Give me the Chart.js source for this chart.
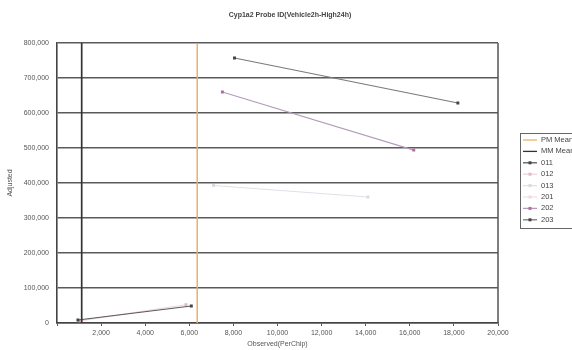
<!DOCTYPE html>
<html>
<head>
<meta charset="utf-8">
<script src="https://cdn.jsdelivr.net/npm/chart.js@4/dist/chart.umd.min.js"></script>
<style>
  html, body { margin: 0; padding: 0; background: #ffffff; }
  canvas { display: block; }
</style>
</head>
<body>
<canvas id="chart" width="572" height="350"></canvas>
<script>
// Probe intensities: observed per chip (x) against adjusted value (y)
const chartTitle = 'Cyp1a2 Probe ID(Vehicle2h-High24h)';
const xTitle = 'Observed(PerChip)';
const yTitle = 'Adjusted';

// Group means drawn as vertical reference lines
const meanNames = ['PM Mean', 'MM Mean'];
const meanValues = [6360, 1120];

// Sample series: two points each
const seriesNames = ['011', '012', '013', '201', '202', '203'];
const observed011 = [950, 6090];
const adjusted011 = [8600, 48600];
const observed012 = [1000, 5850];
const adjusted012 = [6000, 52000];
const observed013 = [7100, 14100];
const adjusted013 = [393000, 360000];
const observed201 = [];
const adjusted201 = [];
const observed202 = [7500, 16180];
const adjusted202 = [660000, 494000];
const observed203 = [8050, 18180];
const adjusted203 = [757000, 628500];

// Axis ranges and ticks
const xMin = 0, xMax = 20000, xStep = 2000;
const yMin = 0, yMax = 800000, yStep = 100000;

const fmt = v => v.toLocaleString('en-US');
const pts = (xs, ys) => xs.map((x, i) => ({ x: x, y: ys[i] }));
const vline = x => [{ x: x, y: yMin }, { x: x, y: yMax }];

const meanColors = ['#eab06a', '#333333'];
const seriesColors = ['#5a5a5a', '#eed3e3', '#e2dfe8', '#f4e0ee', '#b49cbb', '#7a7a7a'];
const pointColors = ['#444444', '#e3b6d0', '#dcd9e4', '#f0d8e8', '#b86aa0', '#444444'];
const seriesData = [
  pts(observed011, adjusted011),
  pts(observed012, adjusted012),
  pts(observed013, adjusted013),
  pts(observed201, adjusted201),
  pts(observed202, adjusted202),
  pts(observed203, adjusted203)
];

const datasets = [];
meanNames.forEach((name, i) => {
  datasets.push({
    label: name,
    data: vline(meanValues[i]),
    borderColor: meanColors[i],
    backgroundColor: meanColors[i],
    borderWidth: i === 0 ? 1.5 : 1.7,
    pointRadius: 0,
    showLine: true
  });
});
seriesNames.forEach((name, i) => {
  datasets.push({
    label: name,
    data: seriesData[i],
    borderColor: seriesColors[i],
    backgroundColor: pointColors[i],
    pointBorderColor: pointColors[i],
    borderWidth: 1.1,
    pointStyle: 'rect',
    pointRadius: 1.3,
    showLine: true
  });
});

const FONT = '"Liberation Sans", Arial, sans-serif';

// Title, right-hand frame edge and legend box
const decorations = {
  id: 'decorations',
  afterDraw(chart) {
    const ctx = chart.ctx;
    const a = chart.chartArea;
    ctx.save();
    // frame right edge
    ctx.strokeStyle = '#555555';
    ctx.lineWidth = 1.5;
    ctx.beginPath();
    ctx.moveTo(a.right, a.top);
    ctx.lineTo(a.right, a.bottom);
    ctx.stroke();

    // title
    ctx.fillStyle = '#444444';
    ctx.font = 'bold 7px ' + FONT;
    ctx.textAlign = 'center';
    ctx.textBaseline = 'middle';
    ctx.fillText(chartTitle, 290, 15);

    // legend
    const lx = 520, ly = 133, lw = 70, lh = 95, step = 11.4;
    ctx.fillStyle = '#ffffff';
    ctx.fillRect(lx, ly, lw, lh);
    ctx.strokeStyle = '#666666';
    ctx.lineWidth = 1;
    ctx.strokeRect(lx + 0.5, ly + 0.5, lw, lh);
    ctx.font = '7.5px ' + FONT;
    ctx.textAlign = 'left';
    chart.data.datasets.forEach((ds, i) => {
      const y = ly + 7 + i * step;
      ctx.strokeStyle = ds.borderColor;
      ctx.lineWidth = 1.3;
      ctx.beginPath();
      ctx.moveTo(lx + 3, y);
      ctx.lineTo(lx + 17, y);
      ctx.stroke();
      if (ds.pointRadius > 0) {
        ctx.fillStyle = ds.backgroundColor;
        ctx.fillRect(lx + 10 - 1.5, y - 1.5, 3, 3);
      }
      ctx.fillStyle = '#444444';
      ctx.fillText(ds.label, lx + 21, y);
    });
    ctx.restore();
  }
};

new Chart(document.getElementById('chart'), {
  type: 'scatter',
  data: { datasets: datasets },
  options: {
    responsive: false,
    animation: false,
    layout: { padding: { top: 43, right: 74, left: 0, bottom: 0 } },
    plugins: {
      legend: { display: false },
      title: { display: false },
      tooltip: { enabled: false }
    },
    scales: {
      x: {
        type: 'linear',
        min: xMin,
        max: xMax,
        afterFit(scale) { scale.height = 27; },
        ticks: {
          stepSize: xStep,
          callback: v => (v === 0 ? '' : fmt(v)),
          font: { family: FONT, size: 7 },
          color: '#555555',
          padding: 3,
          maxRotation: 0,
          autoSkip: false
        },
        grid: {
          drawOnChartArea: false,
          drawTicks: true,
          tickLength: 3,
          color: '#555555',
          lineWidth: 1
        },
        border: { display: true, color: '#444444', width: 1.6 },
        title: {
          display: true,
          text: xTitle,
          font: { family: FONT, size: 7 },
          color: '#555555',
          padding: { top: 0, bottom: 2 }
        }
      },
      y: {
        type: 'linear',
        min: yMin,
        max: yMax,
        afterFit(scale) { scale.width = 57; },
        ticks: {
          stepSize: yStep,
          callback: v => fmt(v),
          font: { family: FONT, size: 7 },
          color: '#555555',
          padding: 8
        },
        grid: {
          drawTicks: false,
          color: '#5a5a5a',
          lineWidth: 1.5
        },
        border: { display: true, color: '#444444', width: 1.6 },
        title: {
          display: true,
          text: yTitle,
          font: { family: FONT, size: 7 },
          color: '#555555',
          padding: { top: 6, bottom: 0 }
        }
      }
    }
  },
  plugins: [decorations]
});
</script>
</body>
</html>
